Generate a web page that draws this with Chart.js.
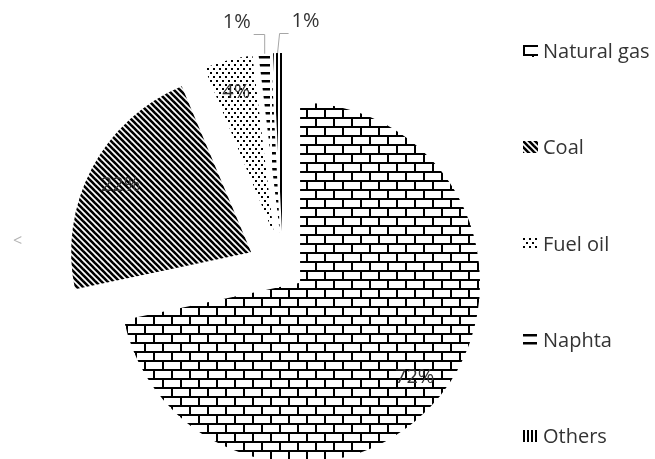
<!DOCTYPE html>
<html>
<head>
<meta charset="utf-8">
<script src="https://cdn.jsdelivr.net/npm/chart.js@4.4.0/dist/chart.umd.min.js"></script>
<style>
  html, body { margin: 0; padding: 0; background: #fff; }
</style>
</head>
<body>
<canvas id="chart" width="655" height="459"></canvas>
<script>
const fuels = ["Natural gas", "Coal", "Fuel oil", "Naphta", "Others"];
const shares = [71.7, 22.0, 4.4, 1.1, 0.8];

// black & white fill patterns, one tile per fuel
function tile(w, h, paint) {
    const c = document.createElement('canvas');
    c.width = w;
    c.height = h;
    const g = c.getContext('2d');
    g.fillStyle = '#fff';
    g.fillRect(0, 0, w, h);
    g.fillStyle = '#000';
    g.strokeStyle = '#000';
    paint(g);
    return g.createPattern(c, 'repeat');
}

const patterns = [
    tile(18, 18, g => { // bricks
        g.fillRect(0, 0, 18, 2);
        g.fillRect(0, 9, 18, 2);
        g.fillRect(0, 0, 2, 9);
        g.fillRect(9, 9, 2, 9);
    }),
    tile(6, 6, g => { // diagonal stripes
        g.lineWidth = 2.6;
        [-6, 0, 6].forEach(k => {
            g.beginPath();
            g.moveTo(k - 1, -1);
            g.lineTo(k + 7, 7);
            g.stroke();
        });
    }),
    tile(6, 8, g => { // dots
        g.fillRect(0, 0, 2, 2);
        g.fillRect(3, 4, 2, 2);
    }),
    tile(16, 8, g => { // horizontal dashes
        g.fillRect(0, 0, 14, 2.5);
    }),
    tile(4, 4, g => { // vertical lines
        g.fillRect(0, 0, 2, 4);
    })
];

// push slices out from the centre along their bisector
const explode = {
    id: 'explode',
    afterDatasetUpdate(chart, args, opts) {
        args.meta.data.forEach((arc, i) => {
            const d = opts.distance[i] || 0;
            const mid = (arc.startAngle + arc.endAngle) / 2;
            arc.x += Math.cos(mid) * d;
            arc.y += Math.sin(mid) * d;
        });
    }
};

const sliceLabels = {
    id: 'sliceLabels',
    afterDatasetsDraw(chart) {
        const ctx = chart.ctx;
        const data = chart.data.datasets[0].data;
        const total = data.reduce((a, b) => a + b, 0);
        ctx.save();
        ctx.font = '20px "Open Sans"';
        ctx.fillStyle = '#333333';
        ctx.strokeStyle = '#a6a6a6';
        ctx.lineWidth = 1;
        ctx.textBaseline = 'alphabetic';
        chart.getDatasetMeta(0).data.forEach((arc, i) => {
            const mid = (arc.startAngle + arc.endAngle) / 2;
            const text = Math.round(data[i] / total * 100) + '%';
            if (data[i] / total > 0.02) {
                const r = arc.outerRadius * 0.82;
                ctx.textAlign = 'center';
                ctx.fillText(text, arc.x + Math.cos(mid) * r, arc.y + Math.sin(mid) * r + 7);
            } else {
                // small slices: label above with a leader line
                const ox = arc.x + Math.cos(mid) * arc.outerRadius;
                const oy = arc.y + Math.sin(mid) * arc.outerRadius;
                const right = i === data.length - 1;
                const ey = Math.round(oy - 20) + 0.5;
                const ex = ox + (right ? 11 : -11);
                ctx.beginPath();
                ctx.moveTo(ox, oy);
                ctx.lineTo(right ? ox + 2 : ox, ey);
                ctx.lineTo(ex, ey);
                ctx.stroke();
                ctx.textAlign = right ? 'left' : 'right';
                ctx.fillText(text, ex + (right ? 3 : -3), ey - 7);
            }
        });
        ctx.restore();
    }
};

const sideLegend = {
    id: 'sideLegend',
    afterDraw(chart, args, opts) {
        const ctx = chart.ctx;
        const fills = chart.data.datasets[0].backgroundColor;
        ctx.save();
        ctx.font = '20px "Open Sans"';
        ctx.textBaseline = 'alphabetic';
        ctx.textAlign = 'left';
        chart.data.labels.forEach((label, i) => {
            const base = Math.round(opts.top + i * opts.step);
            ctx.save();
            ctx.translate(opts.x, base - 13);
            ctx.fillStyle = fills[i];
            ctx.fillRect(0, 0, 15, 12);
            ctx.restore();
            ctx.fillStyle = '#333333';
            ctx.fillText(label, opts.x + 20, base);
        });
        // small grey arrow at the left edge of the original figure
        ctx.fillStyle = '#b4b4b4';
        ctx.font = '16px "Open Sans"';
        ctx.fillText('<', 13, 246);
        ctx.restore();
    }
};

new Chart(document.getElementById('chart'), {
    type: 'pie',
    data: {
        labels: fuels,
        datasets: [{
            data: shares,
            backgroundColor: patterns,
            borderWidth: 0
        }]
    },
    options: {
        responsive: false,
        animation: false,
        radius: 180,
        clip: false,
        layout: { padding: { left: 0, right: 89, top: 79, bottom: 0 } },
        plugins: {
            legend: { display: false },
            tooltip: { enabled: false },
            explode: { distance: [22, 36, 36, 36, 36] },
            sideLegend: { x: 523, top: 58, step: 96.3 }
        }
    },
    plugins: [explode, sliceLabels, sideLegend]
});
</script>
</body>
</html>
